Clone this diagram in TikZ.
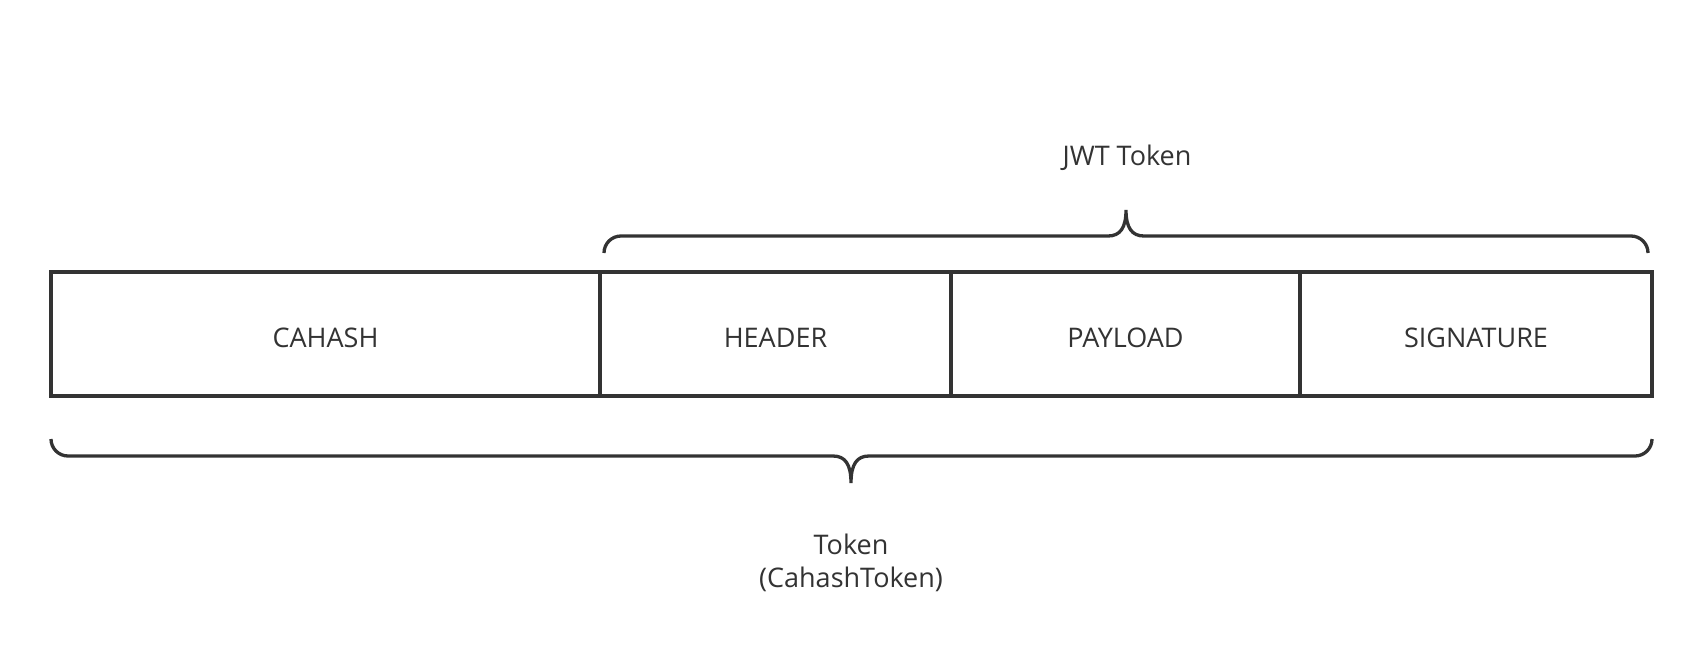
\documentclass[tikz,border=0pt]{standalone}
\usepackage{fontspec}
\setmainfont{Open Sans}
\definecolor{ink}{RGB}{51,51,51}
\newcommand{\celltext}[1]{\raisebox{-13.5pt}[0pt][0pt]{#1}}
\begin{document}
\begin{tikzpicture}[x=1pt,y=-1pt,
  cell/.style={draw=ink, line width=3.3pt, minimum height=124pt, inner sep=0pt,
    font=\fontsize{27}{32}\selectfont, text=ink},
  brace/.style={draw=ink, line width=3.3pt},
  lbl/.style={text=ink, font=\fontsize{27}{33}\selectfont, align=center, inner sep=0pt}]
\useasboundingbox[fill=white] (0,0) rectangle (1702,651);
% cells
\node[cell, minimum width=549pt] (cahash) at (325.5,334) {\celltext{CAHASH}};
\node[cell, minimum width=351pt] (header) at (775.5,334) {\celltext{HEADER}};
\node[cell, minimum width=349pt] (payload) at (1125.5,334) {\celltext{PAYLOAD}};
\node[cell, minimum width=352pt] (signature) at (1476,334) {\celltext{SIGNATURE}};
% upper brace
\coordinate (jl) at (604,253);
\coordinate (jr) at (1648,253);
\coordinate (jt) at (1126,210);
\draw[brace] (jl) .. controls (604,243.6) and (611.6,236) .. (621,236)
  -- (1108,236) .. controls (1120,236) and (1126,228) .. (jt)
  .. controls (1126,228) and (1132,236) .. (1144,236)
  -- (1631,236) .. controls (1640.4,236) and (1648,243.6) .. (jr);
% lower brace
\coordinate (tl) at (51,439);
\coordinate (tr) at (1652,439);
\coordinate (tt) at (851,483);
\draw[brace] (tl) .. controls (51,448.4) and (58.6,456) .. (68,456)
  -- (833,456) .. controls (845,456) and (851,464) .. (tt)
  .. controls (851,464) and (857,456) .. (869,456)
  -- (1635,456) .. controls (1644.4,456) and (1652,448.4) .. (tr);
% labels
\node[lbl] (jwt) at (1127,158) {JWT Token};
\node[lbl] (token) at (851,563) {Token\\(CahashToken)};
\end{tikzpicture}
\end{document}
